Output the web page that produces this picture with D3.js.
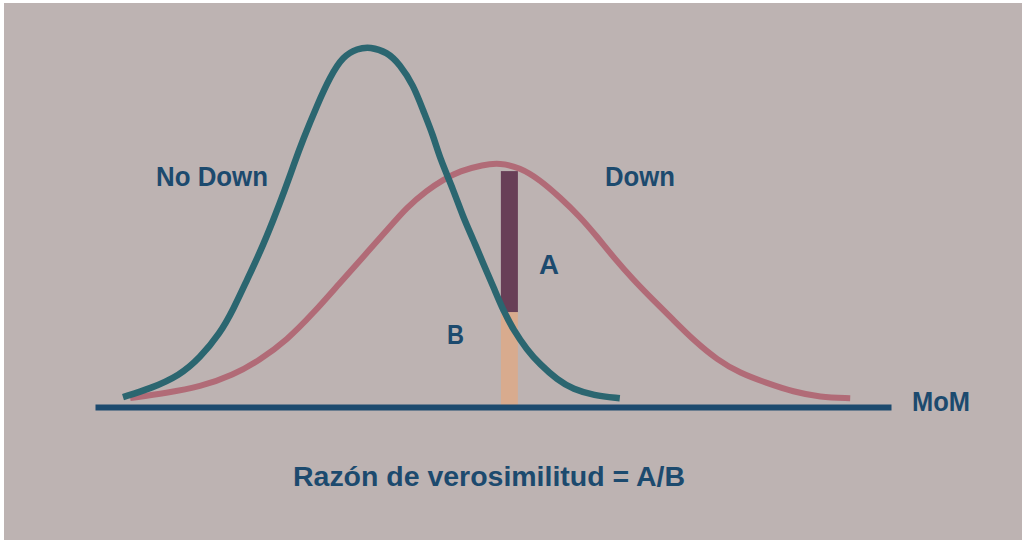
<!DOCTYPE html>
<html>
<head>
<meta charset="utf-8">
<script src="https://cdn.jsdelivr.net/npm/d3@7"></script>
<style>
  html, body { margin: 0; padding: 0; background: #ffffff; }
  svg { display: block; }
</style>
</head>
<body>
<div id="chart"></div>
<script>
// ---- Data (x = MoM in chart units, y = relative density) ----
const noDownX = [3.5, 6.9, 10.6, 13.1, 15.6, 17.3, 19.0, 20.6, 22.3, 23.8, 24.8, 26.0, 27.8, 29.4, 31.0, 32.8, 34.4, 36.5, 38.1, 39.8, 41.0, 42.3, 43.1, 44.8, 46.0, 47.3, 48.5, 49.8, 51.0, 52.3, 54.0, 55.6, 57.8, 59.8, 62.3, 65.6];
const noDownY = [1.4, 3.8, 7.6, 12.6, 19.5, 26.5, 34.9, 42.6, 52.0, 61.0, 67.5, 75.0, 85.0, 93.0, 98.8, 101, 101.5, 100, 96.5, 90.5, 83.4, 76.0, 69.7, 60.6, 52.9, 46.3, 39.7, 32.9, 26.3, 20.6, 14.9, 10.8, 6.3, 3.6, 1.9, 1.1];

const downX = [4.4, 9.0, 13.1, 17.3, 20.6, 24.0, 27.3, 30.6, 33.5, 36.5, 39.0, 41.5, 43.5, 45.6, 48.5, 50.6, 53.1, 55.6, 58.1, 60.6, 62.8, 64.8, 67.3, 69.8, 72.3, 74.8, 77.8, 80.6, 84.0, 87.3, 90.6, 94.4];
const downY = [1.1, 2.6, 4.3, 7.7, 12.0, 17.7, 25.4, 34.0, 41.4, 49.1, 55.7, 60.5, 63.5, 66.0, 67.8, 68.3, 67.0, 63.5, 58.5, 53.0, 47.1, 41.4, 34.9, 29.1, 23.4, 17.7, 12.0, 8.3, 5.4, 2.9, 1.4, 1.1];

// Observed MoM value and the two likelihoods at that value
const observedMoM = [51.8];
const likelihoodA = [65.4];   // Down curve height
const likelihoodB = [25.7];   // No Down curve height

const curveLabels = ["No Down", "Down"];
const axisLabel = ["MoM"];
const barLabels = ["A", "B"];
const caption = ["Razón de verosimilitud = A/B"];

// ---- Layout ----
const W = 1022, H = 540;
const svg = d3.select("#chart").append("svg")
  .attr("width", W).attr("height", H);

svg.append("rect").attr("x", 4).attr("y", 3)
  .attr("width", W - 4).attr("height", H - 3)
  .attr("fill", "#bdb3b2");

const x = d3.scaleLinear().domain([0, 100]).range([95, 895]);
const y = d3.scaleLinear().domain([0, 100]).range([402, 52]);

const noDown = noDownX.map((v, i) => [v, noDownY[i]]);
const down = downX.map((v, i) => [v, downY[i]]);

const line = d3.line()
  .x(d => x(d[0])).y(d => y(d[1]))
  .curve(d3.curveBasis);

const teal = "#2b6670", pink = "#b16b77", navy = "#1c4a6e";
const font = "'Liberation Sans Narrow', 'Liberation Sans', Arial, sans-serif";

// Likelihood bar: B (peach, baseline to No Down) and A (purple, No Down to Down)
const barW = 17;
const mx = x(observedMoM[0]);
svg.append("rect")
  .attr("x", mx - barW / 2).attr("y", y(likelihoodB[0]))
  .attr("width", barW).attr("height", y(0) + 3 - y(likelihoodB[0]))
  .attr("fill", "#d8ab8e");
svg.append("rect")
  .attr("x", mx - barW / 2).attr("y", y(likelihoodA[0]) - 2)
  .attr("width", barW).attr("height", y(likelihoodB[0]) - y(likelihoodA[0]) + 2)
  .attr("fill", "#683f57");

// Curves
svg.append("path").datum(down)
  .attr("d", line).attr("fill", "none")
  .attr("stroke", pink).attr("stroke-width", 6)
  .attr("stroke-linecap", "butt").attr("stroke-linejoin", "round");
svg.append("path").datum(noDown)
  .attr("d", line).attr("fill", "none")
  .attr("stroke", teal).attr("stroke-width", 6.5)
  .attr("stroke-linecap", "butt").attr("stroke-linejoin", "round");

// Baseline (x axis domain line only)
const axisY = y(0) + 5;
const axisG = svg.append("g").attr("transform", `translate(0,${axisY})`)
  .call(d3.axisBottom(x.copy().domain([0, 99.5]).range([95, 891])).tickValues([]).tickSizeOuter(0));
axisG.select(".domain").attr("stroke", navy).attr("stroke-width", 6);

// Labels
function label(txt, xL, yB, len, size) {
  svg.append("text")
    .attr("x", xL).attr("y", yB)
    .attr("font-family", font).attr("font-weight", "bold")
    .attr("font-size", size || 27)
    .attr("fill", navy)
    .attr("textLength", len).attr("lengthAdjust", "spacingAndGlyphs")
    .text(txt);
}
label(curveLabels[0], 156, 186, 112);
label(curveLabels[1], 605, 186, 70);
label(barLabels[0], 539, 274, 20);
label(barLabels[1], 447, 344, 17);
label(axisLabel[0], 912, 411, 58);
label(caption[0], 293, 486, 392);
</script>
</body>
</html>
